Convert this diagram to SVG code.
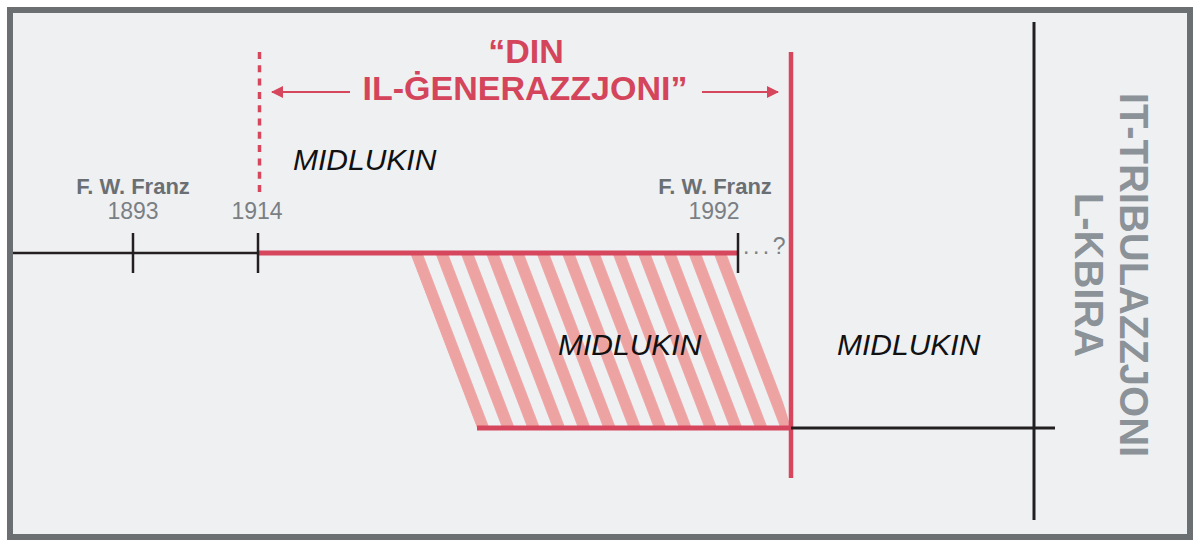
<svg xmlns="http://www.w3.org/2000/svg" width="1200" height="547" viewBox="0 0 1200 547">
  <style>
    .title { font-family: "Liberation Sans", Arial, sans-serif; font-weight: 700; font-size: 34px; fill: #d4455b; }
    .name { font-family: "Liberation Sans", Arial, sans-serif; font-weight: 700; font-size: 22px; fill: #6a6f74; }
    .year { font-family: "Liberation Sans", Arial, sans-serif; font-weight: 400; font-size: 23px; fill: #7a7f84; }
    .mid { font-family: "Liberation Sans", Arial, sans-serif; font-style: italic; font-size: 30px; fill: #111; }
    .trib { font-family: "Liberation Sans", Arial, sans-serif; font-weight: 700; font-size: 40px; fill: #8b9298; }
    .red { stroke: #d6475e; fill: none; }
    .blk { stroke: #231f20; fill: none; }
  </style>
  <defs>
    <pattern id="hatch" patternUnits="userSpaceOnUse" width="25.3" height="40" patternTransform="skewX(20.9)">
      <rect x="9.8" y="0" width="12.5" height="40" fill="#eea3a3"/>
    </pattern>
    <marker id="arrow" viewBox="0 0 12 12" refX="11" refY="6" markerWidth="12" markerHeight="12" markerUnits="userSpaceOnUse" orient="auto">
      <path d="M0,0 L12,6 L0,12 Z" fill="#d6475e"/>
    </marker>
  </defs>

  <rect x="0" y="0" width="1200" height="547" fill="#ffffff"/>
  <rect id="frame" x="10" y="10" width="1180" height="527" fill="#eff0f2" stroke="#6c6f71" stroke-width="6"/>

  <g id="hatch-area">
    <polygon points="410,253 738,253 791,428 477,428" fill="url(#hatch)"/>
  </g>

  <g id="connectors">
    <!-- upper timeline -->
    <line class="blk" x1="13" y1="253" x2="258" y2="253" stroke-width="2.5"/>
    <line class="red" x1="258" y1="253" x2="738" y2="253" stroke-width="5"/>
    <line class="blk" x1="133" y1="233" x2="133" y2="273" stroke-width="2.5"/>
    <line class="blk" x1="258" y1="233" x2="258" y2="273" stroke-width="2.5"/>
    <line class="blk" x1="738" y1="233" x2="738" y2="273" stroke-width="2.5"/>
    <!-- dashed 1914 line -->
    <line class="red" x1="259.5" y1="52" x2="259.5" y2="193" stroke-width="3.5" stroke-dasharray="7 6.3"/>
    <!-- solid red vertical -->
    <line class="red" x1="791" y1="52" x2="791" y2="478" stroke-width="4.5"/>
    <!-- lower timeline -->
    <line class="red" x1="477" y1="428" x2="791" y2="428" stroke-width="5"/>
    <line class="blk" x1="791" y1="428" x2="1055" y2="428" stroke-width="3"/>
    <!-- black vertical -->
    <line class="blk" x1="1034" y1="22" x2="1034" y2="520" stroke-width="3"/>
    <!-- arrows -->
    <line class="red" x1="350" y1="92" x2="272" y2="92" stroke-width="2" marker-end="url(#arrow)"/>
    <line class="red" x1="702" y1="92" x2="778" y2="92" stroke-width="2" marker-end="url(#arrow)"/>
  </g>

  <g id="title">
    <text class="title" x="526" y="63" text-anchor="middle">“DIN</text>
    <text class="title" x="525" y="100" text-anchor="middle">IL-ĠENERAZZJONI”</text>
  </g>

  <g id="franz-1893">
    <text class="name" x="133" y="194" text-anchor="middle">F. W. Franz</text>
    <text class="year" x="133" y="219" text-anchor="middle">1893</text>
  </g>
  <g id="y1914">
    <text class="year" x="257" y="219" text-anchor="middle">1914</text>
  </g>
  <g id="franz-1992">
    <text class="name" x="715" y="194" text-anchor="middle">F. W. Franz</text>
    <text class="year" x="714" y="219" text-anchor="middle">1992</text>
    <text class="year" x="743" y="254" font-size="20" letter-spacing="3.5">...?</text>
  </g>

  <g id="midlukin-1">
    <text class="mid" x="293" y="170">MIDLUKIN</text>
  </g>
  <g id="midlukin-2">
    <text class="mid" x="558" y="355">MIDLUKIN</text>
  </g>
  <g id="midlukin-3">
    <text class="mid" x="837" y="355">MIDLUKIN</text>
  </g>

  <g id="tribulation">
    <g transform="translate(1120,275) rotate(90)">
      <text class="trib" x="0" y="0" text-anchor="middle">IT-TRIBULAZZJONI</text>
      <text class="trib" x="0" y="45" text-anchor="middle">L-KBIRA</text>
    </g>
  </g>
</svg>
